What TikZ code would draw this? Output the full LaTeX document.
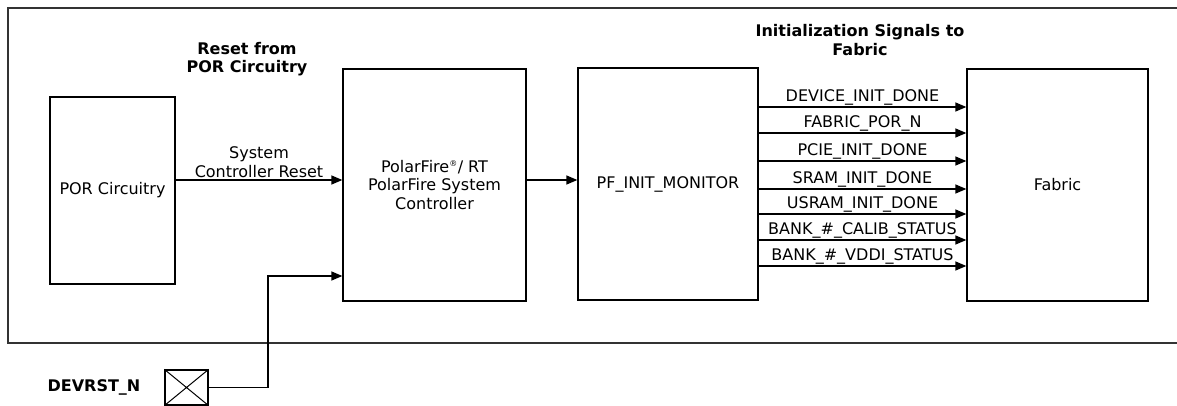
\documentclass[tikz,border=0pt]{standalone}
\usepackage{fontspec}
\setmainfont{DejaVu Sans}
\usetikzlibrary{arrows.meta,positioning}

\begin{document}
\begin{tikzpicture}[x=1pt,y=-1pt,line width=1.3pt,font=\fontsize{16}{18.5}\selectfont,
  blk/.style={draw,align=center,inner sep=0pt},
  sig/.style={-{Triangle[length=11pt,width=9pt]}},
  hdr/.style={font=\fontsize{16}{18.5}\selectfont\bfseries,align=center}]
	\useasboundingbox (0,0) rectangle (1177,406);

	%outer frame (open to the right)
	\draw[black!80] (1177,8) -- (8,8) -- (8,343) -- (1177,343);

	%blocks
	\node[blk,minimum width=125pt,minimum height=187pt] (por) at (112.5,190.5) {POR Circuitry};
	\node[blk,minimum width=183pt,minimum height=232pt] (sysctrl) at (434.5,185)
	  {PolarFire\textsuperscript{\footnotesize ®}/ RT\\PolarFire System\\Controller};
	\node[blk,minimum width=180pt,minimum height=232pt] (initmon) at (668,184) {PF\_INIT\_MONITOR};
	\node[blk,minimum width=181pt,minimum height=232pt] (fabric) at (1057.5,185) {Fabric};

	%pad
	\node[draw,minimum width=43pt,minimum height=35pt,inner sep=0pt] (pad) at (186.5,387.5) {};
	\draw[line width=1pt] (pad.north west) -- (pad.south east) (pad.south west) -- (pad.north east);
	\node[hdr,left=20pt of pad] (padlbl) {DEVRST\_N};

	%headers
	\node[hdr] (rsthdr) at (247,59) {Reset from\\POR Circuitry};
	\node[hdr] (sighdr) at (860,40) {Initialization Signals to\\Fabric};

	%connections
	\coordinate (rst) at (por.east |- 0,180);
	\draw[sig] (rst) -- node[above,align=center,inner sep=2pt] {System\\Controller Reset} (rst -| sysctrl.west); %POR reset
	\coordinate (mon) at (sysctrl.east |- 0,180);
	\draw[sig] (mon) -- (mon -| initmon.west); %to monitor
	\coordinate (bend) at (268,276);
	\draw[sig] (pad.east) -| (bend) -- (bend -| sysctrl.west); %DEVRST_N

	%init signals
	\foreach \y/\txt in {107/DEVICE\_INIT\_DONE, 133/FABRIC\_POR\_N, 161/PCIE\_INIT\_DONE,
	  189/SRAM\_INIT\_DONE, 214/USRAM\_INIT\_DONE, 240/BANK\_\#\_CALIB\_STATUS, 266/BANK\_\#\_VDDI\_STATUS}
	  \draw[sig] (initmon.east |- 0,\y) -- node[above,inner sep=1.5pt] {\txt} (fabric.west |- 0,\y);
\end{tikzpicture}
\end{document}
